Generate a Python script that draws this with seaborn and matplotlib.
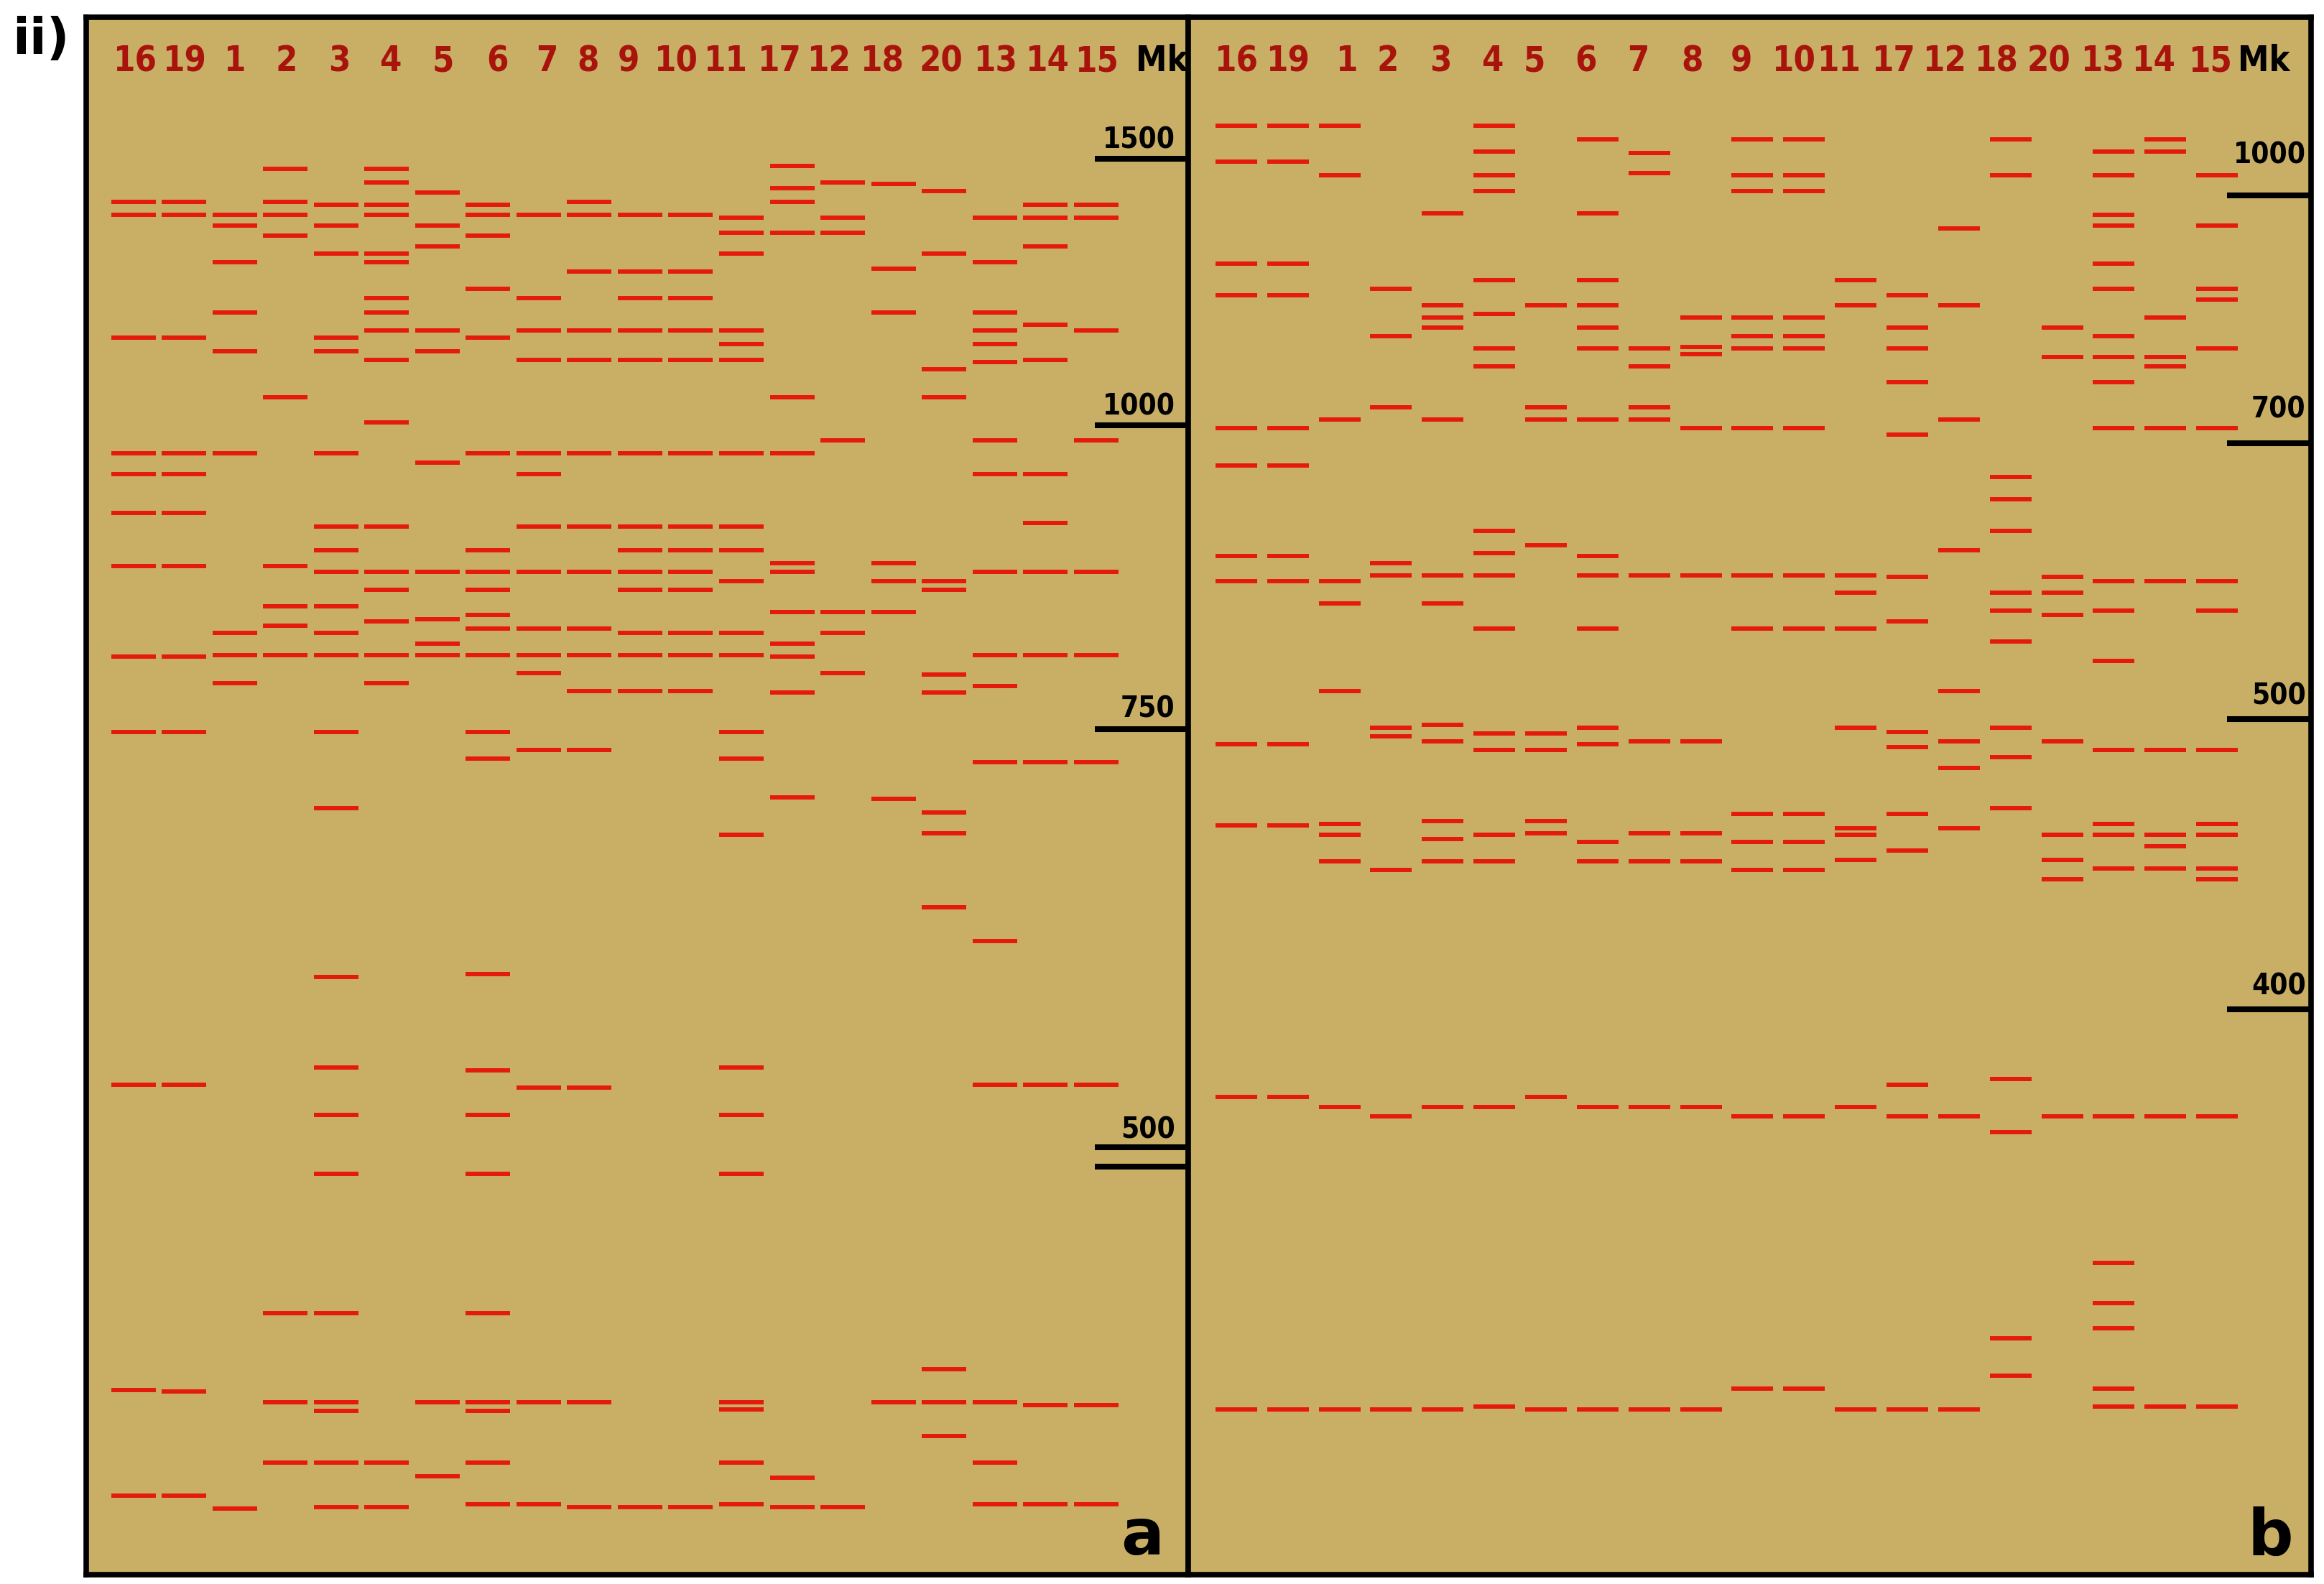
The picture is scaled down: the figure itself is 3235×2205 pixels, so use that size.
import matplotlib
matplotlib.use("Agg")
import matplotlib.pyplot as plt
import seaborn as sns
import pandas as pd

# lane order as printed on top of both gels
lanes = ["16", "19", "1", "2", "3", "4", "5", "6", "7", "8",
         "9", "10", "11", "17", "12", "18", "20", "13", "14", "15"]

# band positions (migration distance from the top of the image)
bands_a = {
    "16": [136, 145, 228, 306, 320, 346, 382, 443, 494, 732, 938, 1009],
    "19": [136, 145, 228, 306, 320, 346, 382, 443, 494, 732, 939, 1009],
    "1": [145, 152, 177, 211, 237, 306, 427, 442, 461, 1018],
    "2": [114, 136, 145, 159, 268, 382, 409, 422, 442, 886, 946, 987],
    "3": [138, 152, 171, 228, 237, 306, 355, 371, 386, 409, 427, 442, 494,
          545, 659, 720, 752, 792, 886, 946, 952, 987, 1017],
    "4": [114, 123, 138, 145, 171, 177, 201, 211, 223, 243, 285, 355, 386,
          398, 419, 442, 461, 987, 1017],
    "5": [130, 152, 166, 223, 237, 312, 386, 418, 434, 442, 946, 996],
    "6": [138, 145, 159, 195, 228, 306, 371, 386, 398, 415, 424, 442, 494,
          512, 657, 722, 752, 792, 886, 946, 952, 987, 1015],
    "7": [145, 201, 223, 243, 306, 320, 355, 386, 424, 442, 454, 506, 734,
          946, 1015],
    "8": [136, 145, 183, 223, 243, 306, 355, 386, 424, 442, 466, 506, 734,
          946, 1017],
    "9": [145, 183, 201, 223, 243, 306, 355, 371, 386, 398, 427, 442, 466, 1017],
    "10": [145, 183, 201, 223, 243, 306, 355, 371, 386, 398, 427, 442, 466, 1017],
    "11": [147, 157, 171, 223, 232, 243, 306, 355, 371, 392, 427, 442, 494,
           512, 563, 720, 752, 792, 946, 951, 987, 1015],
    "17": [112, 127, 136, 157, 268, 306, 380, 386, 413, 434, 443, 467, 538,
           997, 1017],
    "12": [123, 147, 157, 297, 413, 427, 454, 1017],
    "18": [124, 181, 211, 380, 392, 413, 539, 946],
    "20": [129, 171, 249, 268, 392, 398, 455, 467, 548, 562, 612, 924, 946, 969],
    "13": [147, 177, 211, 223, 232, 244, 297, 320, 386, 442, 463, 514, 635,
           732, 946, 987, 1015],
    "14": [138, 147, 166, 219, 243, 320, 353, 386, 442, 514, 732, 948, 1015],
    "15": [138, 147, 223, 297, 386, 442, 514, 732, 948, 1015],
}

bands_b = {
    "16": [85, 109, 178, 199, 289, 314, 375, 392, 502, 557, 740, 951],
    "19": [85, 109, 178, 199, 289, 314, 375, 392, 502, 557, 740, 951],
    "1": [85, 118, 283, 392, 407, 466, 556, 563, 581, 747, 951],
    "2": [195, 227, 275, 380, 388, 491, 497, 587, 753, 951],
    "3": [144, 206, 214, 221, 283, 388, 407, 489, 500, 554, 566, 581, 747, 951],
    "4": [85, 102, 118, 129, 189, 212, 235, 247, 358, 373, 388, 424, 495,
          506, 563, 581, 747, 949],
    "5": [206, 275, 283, 368, 495, 506, 554, 562, 740, 951],
    "6": [94, 144, 189, 206, 221, 235, 283, 375, 388, 424, 491, 502, 568,
          581, 747, 951],
    "7": [103, 117, 235, 247, 275, 283, 388, 500, 562, 581, 747, 951],
    "8": [214, 234, 239, 289, 388, 500, 562, 581, 747, 951],
    "9": [94, 118, 129, 214, 227, 235, 289, 388, 424, 549, 568, 587, 753, 937],
    "10": [94, 118, 129, 214, 227, 235, 289, 388, 424, 549, 568, 587, 753, 937],
    "11": [189, 206, 388, 400, 424, 491, 559, 563, 580, 747, 951],
    "17": [199, 221, 235, 258, 293, 389, 419, 494, 504, 549, 574, 732, 753, 951],
    "12": [154, 206, 283, 371, 466, 500, 518, 559, 753, 951],
    "18": [94, 118, 322, 337, 358, 400, 412, 433, 491, 511, 545, 728, 764,
           903, 928],
    "20": [221, 241, 389, 400, 415, 500, 563, 580, 593, 753],
    "13": [102, 118, 145, 152, 178, 195, 227, 241, 258, 289, 392, 412, 446,
           506, 556, 563, 586, 753, 852, 879, 896, 937, 949],
    "14": [94, 102, 214, 241, 247, 289, 392, 506, 563, 571, 586, 753, 949],
    "15": [118, 152, 195, 202, 235, 289, 392, 412, 506, 556, 563, 586, 593,
           753, 949],
}

# size marker (Mk) lanes
mk_labels_a = ["1500", "1000", "750", "500", ""]
mk_pos_a = [107, 287, 492, 774, 787]
mk_labels_b = ["1000", "700", "500", "400"]
mk_pos_b = [132, 299, 485, 681]


def band_frame(bands):
    rows = [(i, lane, p) for i, lane in enumerate(lanes) for p in bands[lane]]
    return pd.DataFrame(rows, columns=["lane_idx", "lane", "position"])


gel_tan = "#C9AF66"
band_red = "#E41A0E"
label_red = "#A8140C"

# where the lane numbers sit (they drift a little from the band centres)
label_x_a = [0.03, 1.01, 2.0, 3.02, 4.07, 5.09, 6.12, 7.18, 8.16, 8.98,
             9.78, 10.7, 11.68, 12.74, 13.73, 14.78, 15.94, 17.01, 18.03, 19.01]
label_x_b = [0.0, 0.99, 2.13, 2.94, 3.96, 4.97, 5.77, 6.77, 7.79, 8.83,
             9.79, 10.79, 11.67, 12.73, 13.72, 14.72, 15.74, 16.78, 17.77, 18.87]

sns.set_theme(style="white")
plt.rcParams["font.family"] = ["DejaVu Sans"]

fig = plt.figure(figsize=(32.35, 22.05), dpi=100)
ax_a = fig.add_axes([0.0371, 0.0059, 0.4742, 0.9832])
ax_b = fig.add_axes([0.5113, 0.0059, 0.4831, 0.9832])

panels = [
    (ax_a, bands_a, mk_labels_a, mk_pos_a, "a", 45, label_x_a, 20.3, 18.97, 20.56,
     [7, 7, 8, 6, 0], 19.92),
    (ax_b, bands_b, mk_labels_b, mk_pos_b, "b", 42, label_x_b, 19.9, 19.2, 20.72,
     [22, 17, 10, 10], 20.03),
]

for (ax, bands, mk_labels, mk_pos, tag, band_len, label_x, mk_x, mk_start,
     mk_text_x, gaps, tag_x) in panels:
    df = band_frame(bands)
    sns.scatterplot(data=df, x="lane_idx", y="position", marker="_",
                    s=band_len ** 2, linewidth=4.3, color=band_red,
                    legend=False, ax=ax)
    ax.set_xlim(-0.93, 20.82)
    ax.set_ylim(1062.4, 11.6)
    ax.set_facecolor(gel_tan)
    ax.set(xticks=[], yticks=[], xlabel="", ylabel="")
    for sp in ax.spines.values():
        sp.set_color("black")
        sp.set_linewidth(5.5)

    for x, lane in zip(label_x, lanes):
        ax.text(x, 48, lane, ha="center", va="baseline", color=label_red,
                fontsize=35, fontweight="bold", fontstretch="condensed")
    ax.text(mk_x, 48, "Mk", ha="center", va="baseline", color="black",
            fontsize=35, fontweight="bold", fontstretch="condensed", clip_on=True)

    ax.hlines(mk_pos, mk_start, 20.82, color="black", linewidth=5.8)
    for lab, pos, gap in zip(mk_labels, mk_pos, gaps):
        if lab:
            ax.text(mk_text_x, pos - gap, lab, ha="right", va="baseline",
                    color="black", fontsize=29, fontweight="bold",
                    fontstretch="condensed", clip_on=True)

    ax.text(tag_x, 1049, tag, ha="center", va="baseline", color="black",
            fontsize=64, fontweight="bold")

fig.text(0.0053, 0.99, "ii)", ha="left", va="top", fontsize=50,
         fontweight="bold", color="black")

fig.savefig("out.png", dpi=100, facecolor="white")
